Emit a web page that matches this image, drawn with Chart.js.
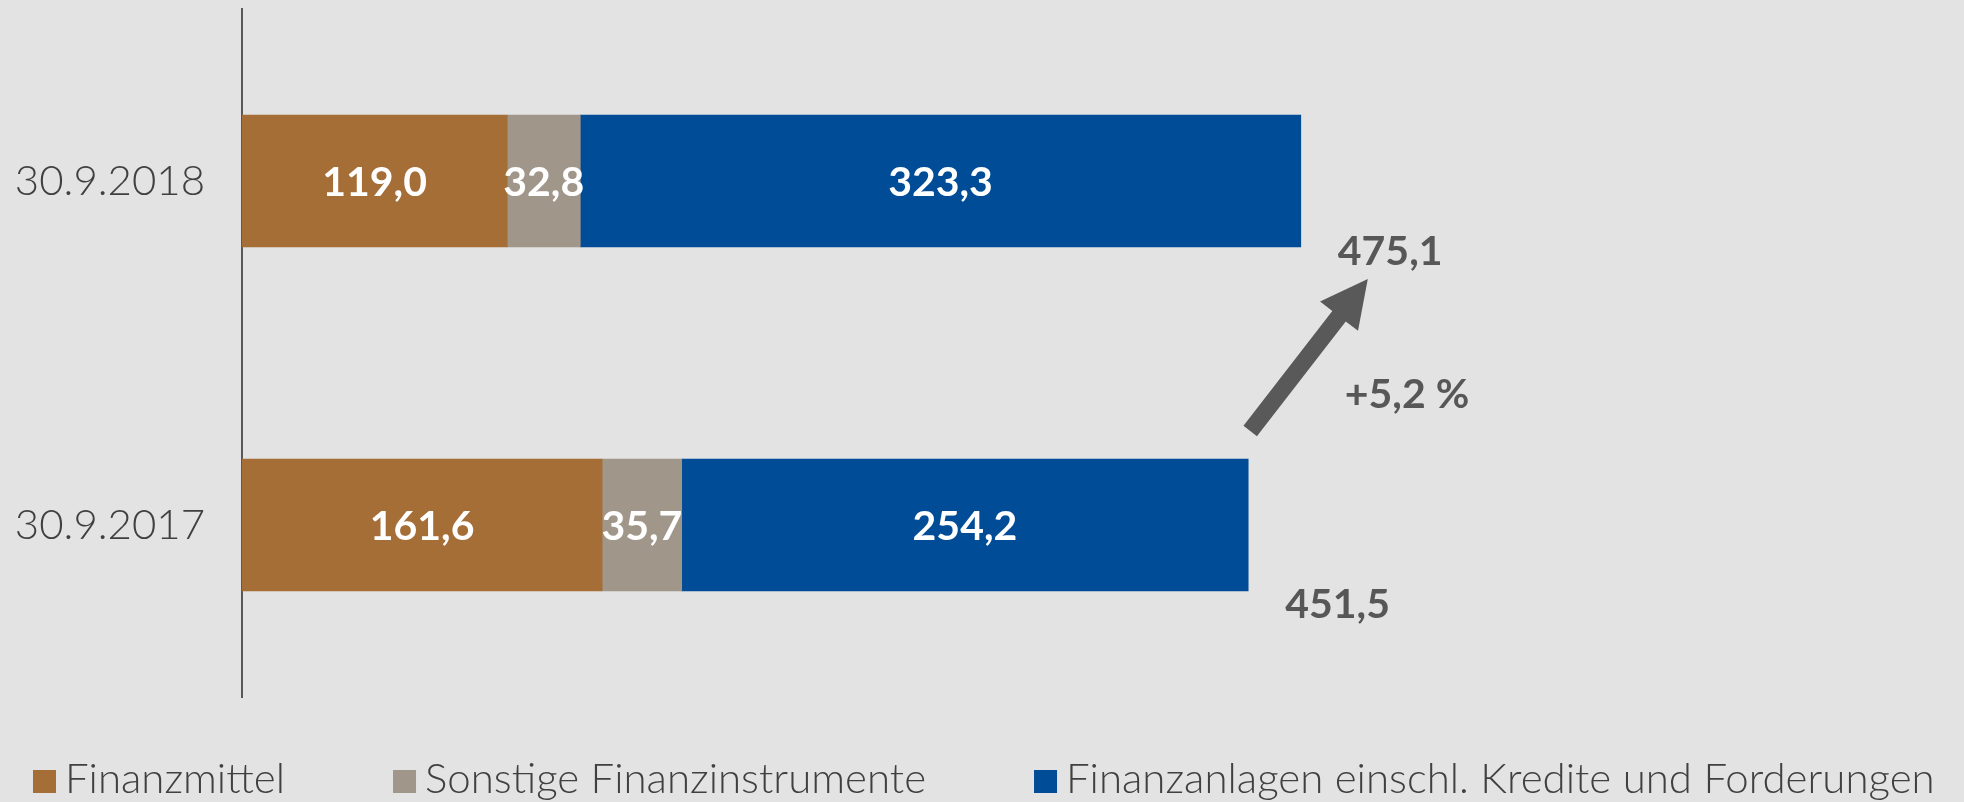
<!DOCTYPE html>
<html><head><meta charset="utf-8">
<script src="https://cdn.jsdelivr.net/npm/chart.js@4.4.0/dist/chart.umd.min.js"></script>
<style>html,body{margin:0;padding:0;background:#e3e3e3;} #wrap{width:1964px;height:802px;position:relative;}</style>
</head><body><div id="wrap"><canvas id="c"></canvas></div>
<script>
const categories = ['30.9.2018', '30.9.2017'];
const seriesNames = ['Finanzmittel', 'Sonstige Finanzinstrumente', 'Finanzanlagen einschl. Kredite und Forderungen'];
const finanzmittel = [119.0, 161.6];
const sonstige = [32.8, 35.7];
const finanzanlagen = [323.3, 254.2];
const seriesColors = ['#a66e37', '#a0968a', '#004c97'];

const seriesValues = [finanzmittel, sonstige, finanzanlagen];
const totals = categories.map((_, i) => seriesValues.reduce((s, arr) => s + arr[i], 0));
const fmt = v => v.toFixed(1).replace('.', ',');
const growth = (totals[0] / totals[1] - 1) * 100;

const labelPlugin = {
  id: 'labels',
  afterDatasetsDraw(chart) {
    const ctx = chart.ctx;
    const xs = chart.scales.x, ys = chart.scales.y;
    ctx.save();
    // segment labels
    ctx.font = 'bold 41px Lato';
    ctx.fillStyle = '#ffffff';
    ctx.textAlign = 'center';
    ctx.textBaseline = 'alphabetic';
    chart.data.datasets.forEach((ds, di) => {
      chart.getDatasetMeta(di).data.forEach((el, i) => {
        const cx = (el.x + el.base) / 2;
        ctx.fillText(fmt(ds.data[i]), cx, el.y + 15);
      });
    });
    // totals
    ctx.fillStyle = '#575757';
    ctx.textAlign = 'left';
    const y18 = ys.getPixelForValue(0), y17 = ys.getPixelForValue(1);
    const x18 = xs.getPixelForValue(totals[0]), x17 = xs.getPixelForValue(totals[1]);
    ctx.fillText(fmt(totals[0]), x18 + 37, y18 + 84);
    ctx.fillText(fmt(totals[1]), x17 + 37, y17 + 93);
    ctx.fillText((growth >= 0 ? '+' : '') + fmt(growth) + ' %', x18 + 44, y17 - 117);
    // arrow
    const tx = x17 + 2, ty = y17 - 94;
    const hx = x18 + 67, hy = y18 + 98;
    const dx = hx - tx, dy = hy - ty, len = Math.hypot(dx, dy);
    const ux = dx / len, uy = dy / len, px = -uy, py = ux;
    const sw = 8.5, hl = 47, hw = 24;
    const bx = hx - ux * hl, by = hy - uy * hl;
    ctx.beginPath();
    ctx.moveTo(tx + px * sw, ty + py * sw);
    ctx.lineTo(bx + px * sw, by + py * sw);
    ctx.lineTo(bx + px * hw, by + py * hw);
    ctx.lineTo(hx, hy);
    ctx.lineTo(bx - px * hw, by - py * hw);
    ctx.lineTo(bx - px * sw, by - py * sw);
    ctx.lineTo(tx - px * sw, ty - py * sw);
    ctx.closePath();
    ctx.fillStyle = '#595959';
    ctx.fill();
    ctx.restore();
  },
  afterDraw(chart) {
    const ctx = chart.ctx;
    ctx.save();
    ctx.font = '300 42px Lato';
    ctx.textBaseline = 'alphabetic';
    ctx.textAlign = 'left';
    let x = 33;
    const boxTop = 770, box = 23;
    chart.data.datasets.forEach(ds => {
      ctx.fillStyle = ds.backgroundColor;
      ctx.fillRect(x, boxTop, box, box);
      ctx.fillStyle = '#404040';
      ctx.fillText(ds.label, x + box + 9, 793);
      x += box + 9 + ctx.measureText(ds.label).width + 108;
    });
    ctx.restore();
  }
};

new Chart(document.getElementById('c'), {
  type: 'bar',
  data: {
    labels: categories,
    datasets: seriesNames.map((n, i) => ({
      label: n,
      data: seriesValues[i],
      backgroundColor: seriesColors[i],
      borderWidth: 0,
      barThickness: 132
    }))
  },
  options: {
    indexAxis: 'y',
    responsive: true,
    maintainAspectRatio: false,
    animation: false,
    layout: { padding: { top: 9, right: 162, bottom: 105, left: 0 } },
    plugins: { legend: { display: false }, tooltip: { enabled: false } },
    scales: {
      x: { stacked: true, min: 0, max: 700, display: false },
      y: {
        stacked: true,
        grid: { display: false },
        border: { display: true, color: '#595959', width: 2 },
        ticks: { color: '#404040', padding: 29, font: { family: 'Lato', size: 42, weight: '300' } },
        afterFit(scale) { scale.width = 242; scale.paddingTop = 0; scale.paddingBottom = 0; }
      }
    }
  },
  plugins: [labelPlugin]
});
</script>
</body></html>
